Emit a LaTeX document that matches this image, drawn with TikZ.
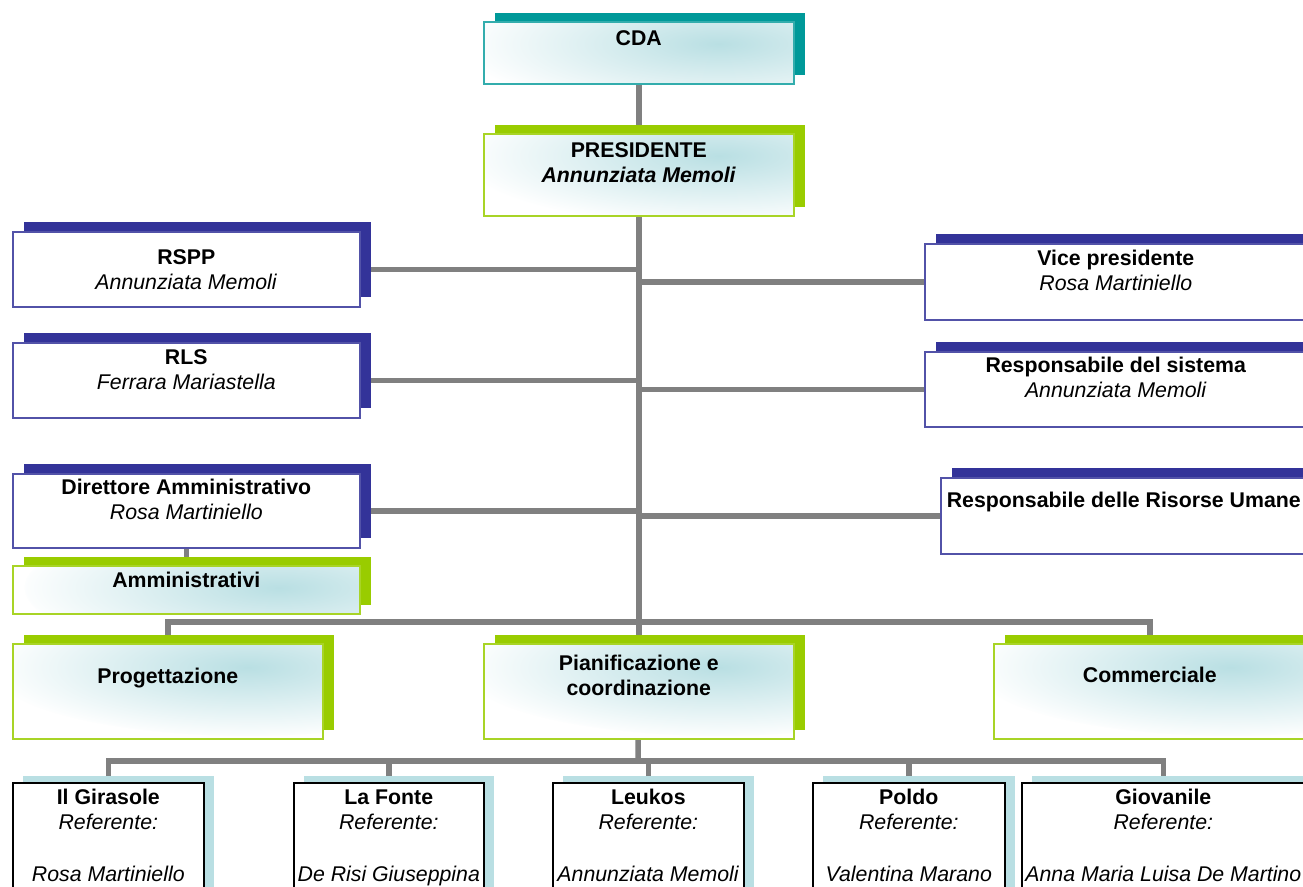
\documentclass[tikz,border=0pt]{standalone}
\usepackage{fontspec}
\setmainfont{Liberation Sans}
\usetikzlibrary{shadows,positioning,calc}
\pgfdeclarelayer{bg}
\pgfsetlayers{bg,main}

\definecolor{chartteal}{HTML}{009999}
\definecolor{chartgreen}{HTML}{99CC00}
\definecolor{chartblue}{HTML}{333399}
\definecolor{chartgrey}{HTML}{808080}
\definecolor{chartice}{HTML}{B9DFE3}

\newcommand{\boxtext}[4]{\parbox[c][#2pt][t]{#1pt}{\centering\rule{0pt}{#3pt}#4}}

\tikzset{
  box/.style={rectangle, inner sep=0pt, anchor=north west, line width=1.6pt, fill=white},
  glow/.style={path picture={\shade[inner color=chartice, outer color=white]
    ([xshift=-75pt,yshift=-22pt]path picture bounding box.north east) ellipse [x radius=260pt, y radius=70pt];}},
  tealbox/.style={box, draw=chartteal!80, glow, general shadow={shadow xshift=11pt, shadow yshift=9pt, fill=chartteal}},
  greenbox/.style={box, draw=chartgreen!85, glow, general shadow={shadow xshift=11pt, shadow yshift=9pt, fill=chartgreen}},
  bluebox/.style={box, draw=chartblue!85, general shadow={shadow xshift=11pt, shadow yshift=10pt, fill=chartblue}},
  unitbox/.style={box, draw=black, general shadow={shadow xshift=10pt, shadow yshift=7pt, fill=chartice}},
  link/.style={draw=chartgrey, line width=5.5pt}
}

\begin{document}
\begin{tikzpicture}[x = 1pt, y = -1pt, font=\fontsize{21.3}{24.5}\selectfont]
\useasboundingbox (0,0) rectangle (1303,886);
\clip (0,0) rectangle (1303,886);

% top of the chart
\node[tealbox] (cda) at (483,21) {\boxtext{310}{62}{24}{\textbf{CDA}}};
\node[greenbox] (pres) at (483,133) {\boxtext{310}{82}{24}{\textbf{PRESIDENTE}\\\textbf{\textit{Annunziata Memoli}}}};

% staff on the left
\node[bluebox] (rspp) at (12,231) {\boxtext{347}{75}{33}{\textbf{RSPP}\\\textit{Annunziata Memoli}}};
\node[bluebox] (rls) at (12,342) {\boxtext{347}{75}{22}{\textbf{RLS}\\\textit{Ferrara Mariastella}}};
\node[bluebox] (dir) at (12,473) {\boxtext{347}{74}{21}{\textbf{Direttore Amministrativo}\\\textit{Rosa Martiniello}}};
\node[greenbox] (amm) at (12,565) {\boxtext{347}{48}{22}{\textbf{Amministrativi}}};

% staff on the right
\node[bluebox] (vice) at (924,243) {\boxtext{382}{76}{22}{\textbf{Vice presidente}\\\textit{Rosa Martiniello}}};
\node[bluebox] (sist) at (924,351) {\boxtext{382}{75}{21}{\textbf{Responsabile del sistema}\\\textit{Annunziata Memoli}}};
\node[bluebox] (risorse) at (940,477) {\boxtext{366}{76}{30}{\textbf{Responsabile delle Risorse Umane}}};

% areas
\node[greenbox] (prog) at (12,643) {\boxtext{310}{95}{40}{\textbf{Progettazione}}};
\node[greenbox] (pian) at (483,643) {\boxtext{310}{95}{27}{\textbf{Pianificazione e}\\\textbf{coordinazione}}};
\node[greenbox] (comm) at (993,643) {\boxtext{312}{95}{39}{\textbf{Commerciale}}};

% services
\node[unitbox] (girasole) at (12,782) {\boxtext{191}{120}{22}{\textbf{Il Girasole}\\\textit{Referente:}\\[28pt]\textit{Rosa Martiniello}}};
\node[unitbox] (fonte) at (293,782) {\boxtext{190}{120}{22}{\textbf{La Fonte}\\\textit{Referente:}\\[28pt]\textit{De Risi Giuseppina}}};
\node[unitbox] (leukos) at (552,782) {\boxtext{191}{120}{22}{\textbf{Leukos}\\\textit{Referente:}\\[28pt]\textit{Annunziata Memoli}}};
\node[unitbox] (poldo) at (812,782) {\boxtext{192}{120}{22}{\textbf{Poldo}\\\textit{Referente:}\\[28pt]\textit{Valentina Marano}}};
\node[unitbox] (giovanile) at (1021,782) {\boxtext{283}{120}{22}{\textbf{Giovanile}\\\textit{Referente:}\\[28pt]\textit{Anna Maria Luisa De Martino}}};

\coordinate (bus1) at (638,622);
\coordinate (bus2) at (638,761);

\begin{pgfonlayer}{bg}
\draw[link] (cda) -- (pres);
\draw[link] (pres) -- (pian);
\draw[link] (rspp) -- (rspp -| pres);
\draw[link] (rls) -- (rls -| pres);
\draw[link] (dir) -- (dir -| pres);
\draw[link] (vice) -- (vice -| pres);
\draw[link] (sist) -- (sist -| pres);
\draw[link] (risorse) -- (risorse -| pres);
\draw[link] (dir) -- (amm);
\draw[link] (prog) |- (bus1) -| (comm);
\draw[link] (pian) -- (bus2);
\draw[link] (girasole) |- (bus2) -| (giovanile);
\draw[link] (fonte) -- (fonte |- bus2);
\draw[link] (leukos) -- (leukos |- bus2);
\draw[link] (poldo) -- (poldo |- bus2);
\end{pgfonlayer}

\end{tikzpicture}
\end{document}
